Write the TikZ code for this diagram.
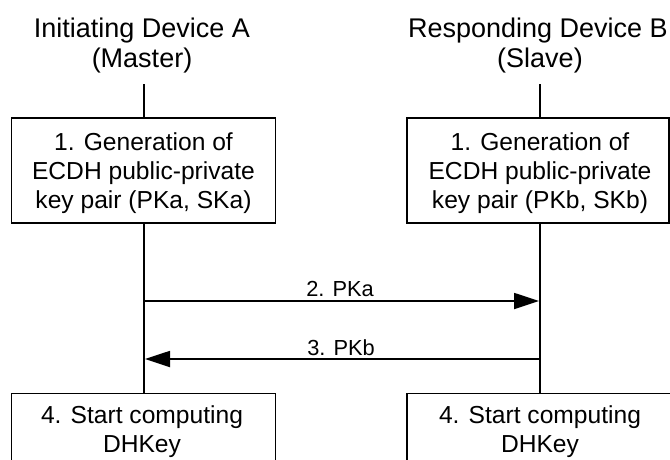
\documentclass[tikz,border=0pt]{standalone}
\usepackage{fontspec}
\setmainfont{Liberation Sans}
\usetikzlibrary{arrows.meta}
\begin{document}
\begin{tikzpicture}[x=1pt,y=-1pt,
  title/.style={font=\fontsize{27}{31}\selectfont, inner sep=0pt, anchor=base},
  boxtext/.style={font=\fontsize{24.6}{29}\selectfont, inner sep=0pt, anchor=base},
  lbl/.style={font=\fontsize{21.8}{25}\selectfont, inner sep=0pt, anchor=base},
  stepbox/.style={draw, line width=1.2pt, inner sep=0pt},
  life/.style={line width=1.2pt},
  msg/.style={line width=1.8pt, -{Triangle[length=25pt,width=16pt]}}]
\useasboundingbox (0,0) rectangle (670,459);
\clip (0,0) rectangle (670,459);

% device headings
\node[title] (tA1) at (142,37) {Initiating Device A};
\node[title] (tA2) at (142,67) {(Master)};
\node[title] (tB1) at (538,37) {Responding Device B};
\node[title] (tB2) at (540,67) {(Slave)};

% step 1 boxes
\node[stepbox, minimum width=264pt, minimum height=105pt] (genA) at (143.5,170.5) {};
\node[boxtext] (gA1) at (143.5,150) {1. Generation of};
\node[boxtext] (gA2) at (143.5,179) {ECDH public-private};
\node[boxtext] (gA3) at (143.5,208) {key pair (PKa, SKa)};

\node[stepbox, minimum width=262pt, minimum height=105pt] (genB) at (538,170.5) {};
\node[boxtext] (gB1) at (540,150) {1. Generation of};
\node[boxtext] (gB2) at (540,179) {ECDH public-private};
\node[boxtext] (gB3) at (540,208) {key pair (PKb, SKb)};

% step 4 boxes (run past the lower edge)
\node[stepbox, minimum width=264pt, minimum height=100pt, anchor=north] (compA) at (143.5,393) {};
\node[boxtext] (cA1) at (142,423) {4. Start computing};
\node[boxtext] (cA2) at (142,452) {DHKey};

\node[stepbox, minimum width=266pt, minimum height=100pt, anchor=north] (compB) at (540,393) {};
\node[boxtext] (cB1) at (540,423) {4. Start computing};
\node[boxtext] (cB2) at (540,452) {DHKey};

% lifelines
\coordinate (topA) at (144,84);
\coordinate (topB) at (540,84);
\draw[life] (topA) -- (topA |- genA.north);
\draw[life] (topB) -- (topB |- genB.north);
\draw[life] (topA |- genA.south) -- (topA |- compA.north);
\draw[life] (topB |- genB.south) -- (topB |- compB.north);

% key exchange messages
\coordinate (a2) at (144,301);
\coordinate (b2) at (539,301);
\coordinate (a3) at (145,359);
\coordinate (b3) at (540,359);
\draw[msg] (a2) -- (b2);
\node[lbl] (m2) at (340,296) {2. PKa};
\draw[msg] (b3) -- (a3);
\node[lbl] (m3) at (341,355) {3. PKb};
\end{tikzpicture}
\end{document}
